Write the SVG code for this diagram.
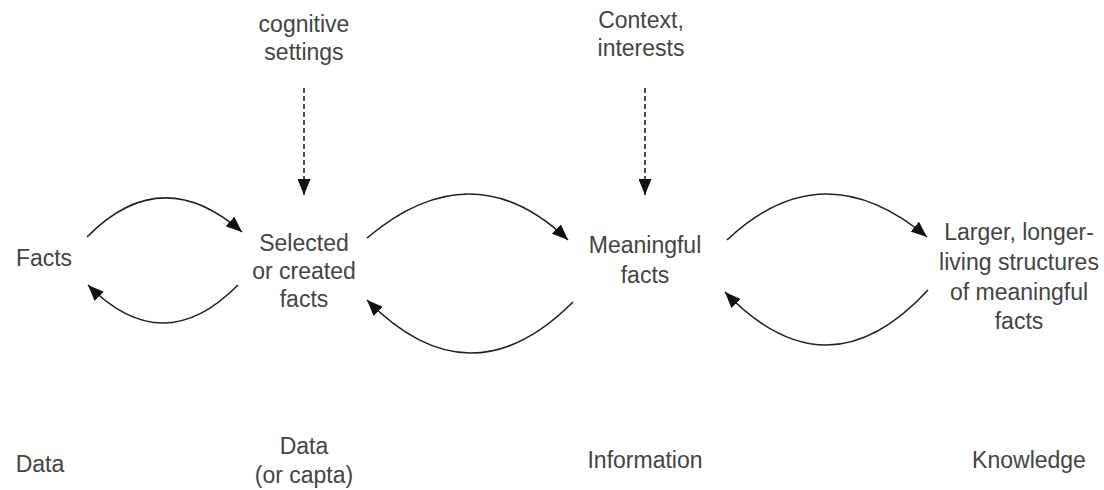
<svg xmlns="http://www.w3.org/2000/svg" width="1104" height="490" viewBox="0 0 1104 490">
<style>
text{font-family:"Liberation Sans",Arial,sans-serif;font-size:23px;fill:#444;text-anchor:middle}
.c{fill:none;stroke:#222;stroke-width:1.6}
.d{fill:none;stroke:#222;stroke-width:1.6;stroke-dasharray:5,3}
</style>
<defs>
<marker id="ah" markerUnits="userSpaceOnUse" markerWidth="17" markerHeight="13" refX="16" refY="6.5" orient="auto">
<path d="M0,0 L16,6.5 L0,13 Z" fill="#111"/>
</marker>
</defs>
<rect width="1104" height="490" fill="#fff"/>
<g id="facts"><text x="44" y="266">Facts</text></g>
<g id="selected"><text x="304" y="251">Selected</text><text x="304" y="279">or created</text><text x="304" y="307">facts</text></g>
<g id="meaningful"><text x="645" y="253">Meaningful</text><text x="645" y="283">facts</text></g>
<g id="larger"><text x="1019" y="240">Larger, longer-</text><text x="1019" y="270">living structures</text><text x="1019" y="300">of meaningful</text><text x="1019" y="329">facts</text></g>
<g id="cognitive"><text x="304" y="32">cognitive</text><text x="304" y="60">settings</text></g>
<g id="context"><text x="641" y="28">Context,</text><text x="641" y="56">interests</text></g>
<g id="labels">
<text x="40" y="472">Data</text>
<text x="304" y="454">Data</text><text x="304" y="483">(or capta)</text>
<text x="645" y="468">Information</text>
<text x="1029" y="468">Knowledge</text>
</g>
<g id="connectors">
<path class="d" d="M304,88 L304,195" marker-end="url(#ah)"/>
<path class="d" d="M645,88 L645,195" marker-end="url(#ah)"/>
<path class="c" d="M87,237 Q161.5,161.5 242,232" marker-end="url(#ah)"/>
<path class="c" d="M238,285 Q163,361 88,285" marker-end="url(#ah)"/>
<path class="c" d="M367,238 Q472.5,149 568,240" marker-end="url(#ah)"/>
<path class="c" d="M573,302 Q470,405 367,300" marker-end="url(#ah)"/>
<path class="c" d="M727,240 Q823,149.5 927,237" marker-end="url(#ah)"/>
<path class="c" d="M928,290 Q827.5,399 725,292" marker-end="url(#ah)"/>
</g>
</svg>
